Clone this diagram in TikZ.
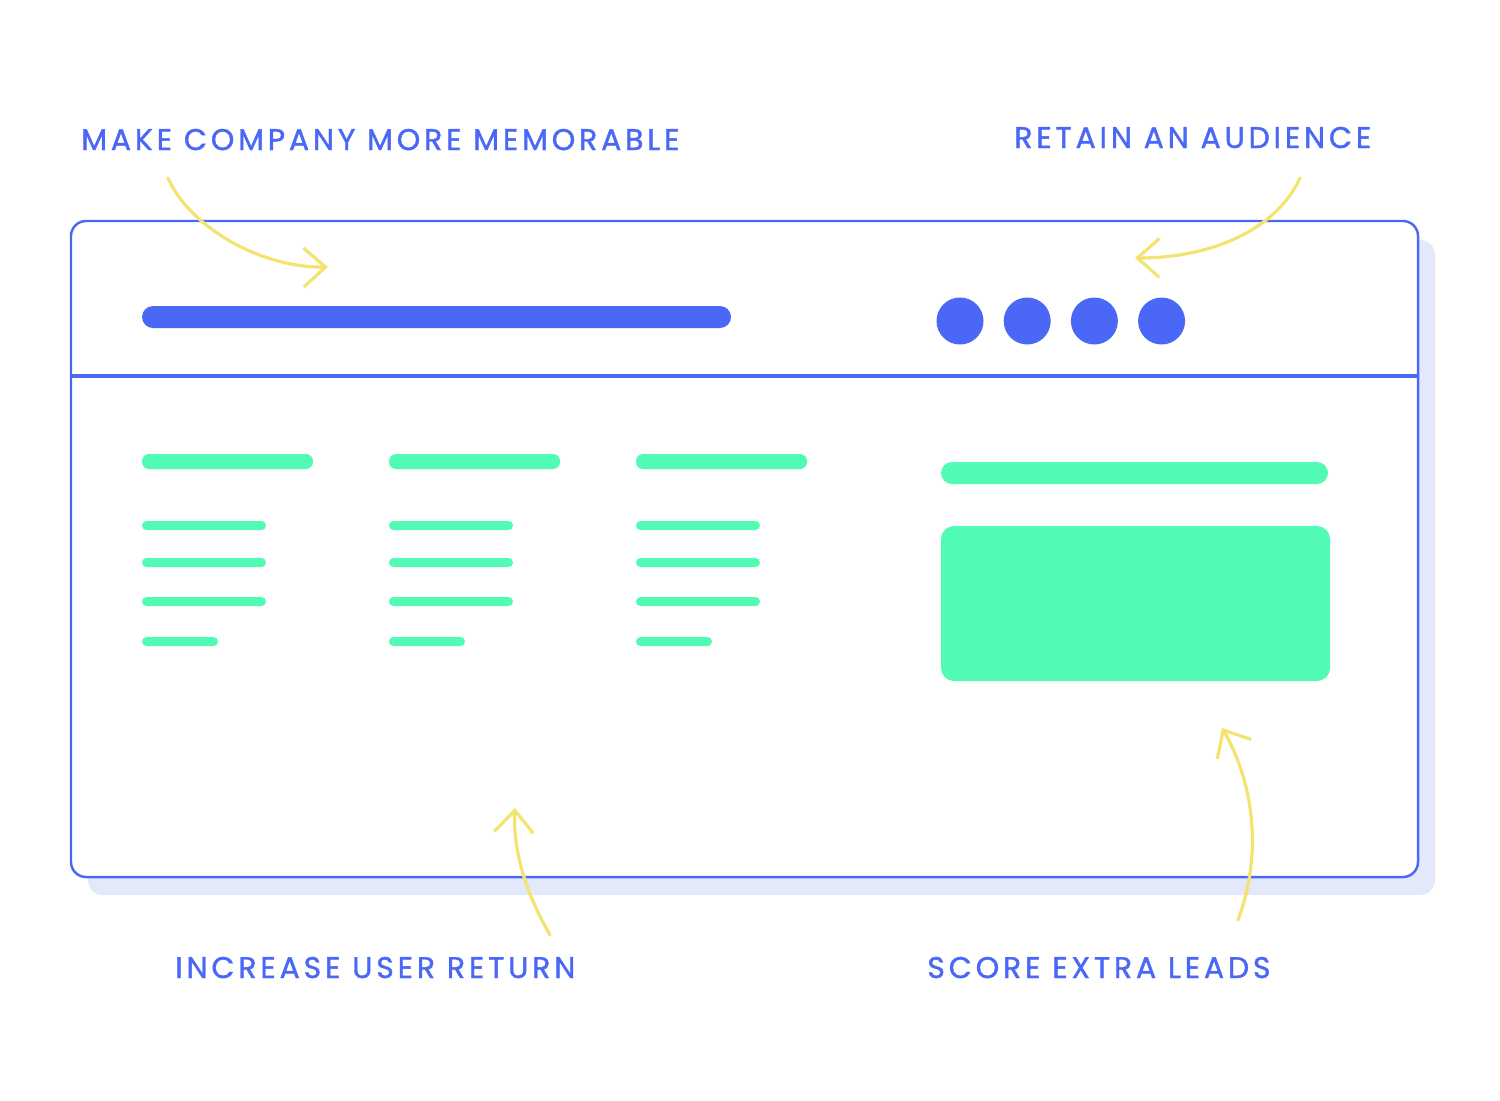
\documentclass[tikz,border=0pt]{standalone}
\usepackage{fontspec}
\usepackage{tikz}
\usetikzlibrary{arrows.meta,positioning}
\newfontfamily\calloutfont[LetterSpace=13,FakeBold=1.3]{Poppins}
\definecolor{WebBlue}{HTML}{4A68F5}
\definecolor{WebShadow}{HTML}{E3E8FB}
\definecolor{WebMint}{HTML}{52FBB3}
\definecolor{HintYellow}{HTML}{F2E46E}
\tikzset{
  callout/.style={anchor=base west,inner sep=0pt,text=WebBlue,font=\calloutfont\fontsize{17pt}{17pt}\selectfont},
  pageframe/.style={draw=WebBlue,line width=1.4pt,fill=white,rounded corners=3mm},
  pageshadow/.style={fill=WebShadow,rounded corners=3mm},
  mintbar/.style={fill=WebMint,rounded corners=1.4mm},
  mintline/.style={fill=WebMint,rounded corners=0.9mm},
  navdot/.style={circle,fill=WebBlue,minimum size=9.4mm,inner sep=0pt},
  hintarrow/.style={-{Straight Barb[length=4.4mm,width=7.8mm]},line width=1.8pt,draw=HintYellow,line cap=round}
}
\begin{document}
\begin{tikzpicture}[x=0.02cm,y=-0.02cm]
\useasboundingbox (0,0) rectangle (1500,1100);
% browser window
\fill[pageshadow] (88,240) rectangle (1435,895);
\draw[pageframe] (71,221) rectangle (1418,877);
\draw[WebBlue,line width=2.4pt] (71,376) -- (1418,376);
% header
\fill[WebBlue,rounded corners=2.2mm] (142,306) rectangle (731,328);
\node[navdot] (dotA) at (960,321) {};
\node[navdot,right=3.9mm of dotA] (dotB) {};
\node[navdot,right=3.9mm of dotB] (dotC) {};
\node[navdot,right=3.9mm of dotC] (dotD) {};
% text columns
\foreach \cx in {142,389,636}{
  \fill[mintbar] (\cx,454) rectangle (\cx+171,469);
  \fill[mintline] (\cx,521) rectangle (\cx+124,530);
  \fill[mintline] (\cx,558) rectangle (\cx+124,567);
  \fill[mintline] (\cx,597) rectangle (\cx+124,606);
  \fill[mintline] (\cx,637) rectangle (\cx+76,646);
}
% side panel
\fill[mintbar,rounded corners=2.2mm] (941,462) rectangle (1328,484);
\fill[mintbar,rounded corners=2.6mm] (941,526) rectangle (1330,681);
% callouts
\node[callout] (memo) at (81,150) {MAKE COMPANY MORE MEMORABLE};
\node[callout] (retain) at (1014,148) {RETAIN AN AUDIENCE};
\node[callout] (return) at (175,978) {INCREASE USER RETURN};
\node[callout] (leads) at (927,978) {SCORE EXTRA LEADS};
\coordinate (memoTail) at (168,178);
\coordinate (memoTip) at (328,267);
\coordinate (retainTail) at (1300,178);
\coordinate (retainTip) at (1135,258);
\coordinate (returnTail) at (550,935);
\coordinate (returnTip) at (515,808);
\coordinate (leadsTail) at (1238,920);
\coordinate (leadsTip) at (1222,728);
\draw[hintarrow] (memoTail) .. controls (190,228) and (262,268) .. (memoTip);
\draw[hintarrow] (retainTail) .. controls (1275,232) and (1208,258) .. (retainTip);
\draw[hintarrow] (returnTail) .. controls (524,890) and (513,848) .. (returnTip);
\draw[hintarrow] (leadsTail) .. controls (1264,850) and (1252,780) .. (leadsTip);
\end{tikzpicture}
\end{document}
